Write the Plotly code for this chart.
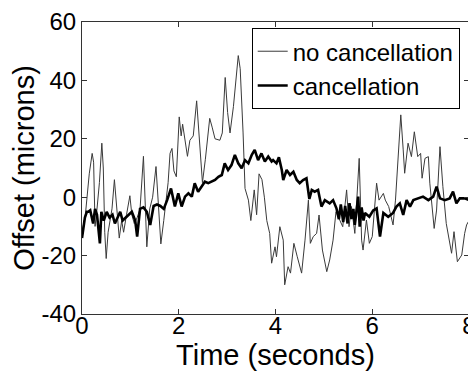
import plotly.graph_objects as go

# "no cancellation" (thin line) – time (s) and offset (microns)
t_nocancel = [0.00, 0.07, 0.15, 0.21, 0.24, 0.27, 0.31, 0.36, 0.41, 0.44, 0.47, 0.50, 0.54, 0.58,
              0.62, 0.67, 0.71, 0.77, 0.82, 0.86, 0.92, 0.99, 1.03, 1.08, 1.14, 1.20, 1.27, 1.30,
              1.34, 1.40, 1.46, 1.53, 1.57, 1.63, 1.69, 1.78, 1.82, 1.86, 1.90, 1.95, 2.01, 2.05,
              2.08, 2.12, 2.18, 2.23, 2.30, 2.37, 2.41, 2.49, 2.55, 2.64, 2.69, 2.75, 2.85, 2.90,
              2.96, 3.01, 3.06, 3.13, 3.23, 3.27, 3.33, 3.37, 3.44, 3.49, 3.56, 3.61, 3.66, 3.72,
              3.77, 3.82, 3.88, 3.92, 3.99, 4.02, 4.09, 4.16, 4.19, 4.26, 4.31, 4.38, 4.45, 4.54,
              4.61, 4.68, 4.72, 4.78, 4.85, 4.90, 4.97, 5.06, 5.12, 5.19, 5.25, 5.33, 5.39, 5.47,
              5.52, 5.57, 5.64, 5.73, 5.78, 5.81, 5.88, 5.94, 6.00, 6.09, 6.14, 6.23, 6.27, 6.34,
              6.43, 6.48, 6.59, 6.64, 6.67, 6.74, 6.81, 6.87, 6.94, 7.00, 7.03, 7.09, 7.16, 7.19,
              7.28, 7.33, 7.40, 7.46, 7.53, 7.64, 7.69, 7.76, 7.85, 7.91, 7.95, 8.00]
v_nocancel = [-12, -6, 8, 15, 12, -10, -4, 5, 18.5, 10, -12, -21, -12, -8,
              -4, 6, -3, -14, -8, -12, -6, 0.5, -6, -9, -7, -4, 14, 0,
              -17, -4, 0, 10.5, 0, -16, -8, 5, 15, 16.7, 9, 7, 27.5, 21,
              25, 20, 14, 19.5, 21, 33, 23, 5, 13, 27, 24, 20, 19.5, 22,
              41, 29, 22, 31, 48.5, 44, 22, 3, -1, -8, 2.5, -6, 8, 6,
              0, -8, -12.4, -22.6, -17, -20.4, -10.1, -14.7, -30, -23.8, -26, -15.8, -20.4, -26,
              -14.7, -1, -15.8, -13.5, -12.4, -6.1, -18.1, -25.5, -21.5, -14.7, -5, -7.8, -10.1, 2.5,
              -10.1, -3.2, -12.4, 13.3, -14.7, -18.1, -7.8, -15.8, -13.5, 4.8, -1, 1.3, -1, -3.2,
              -9.5, -1, 28.2, 16.2, 8.2, 18.5, 13.9, 22.4, 13.9, 15, 6.5, 13.3, 13.9, 4.8,
              -10.7, -4.4, 17.3, 3.6, -9, -19.2, -11.8, -22.1, -19.8, -12.4, -9.5, -8]

# "cancellation" (thick line)
t_cancel = [0.00, 0.03, 0.06, 0.10, 0.13, 0.17, 0.23, 0.27, 0.31, 0.37, 0.40, 0.45, 0.51, 0.57,
            0.63, 0.68, 0.73, 0.79, 0.84, 0.90, 0.96, 1.03, 1.10, 1.14, 1.20, 1.27, 1.34, 1.41,
            1.48, 1.55, 1.62, 1.69, 1.76, 1.84, 1.92, 1.99, 2.06, 2.13, 2.20, 2.27, 2.33, 2.40,
            2.47, 2.54, 2.61, 2.68, 2.75, 2.82, 2.89, 2.95, 3.02, 3.09, 3.16, 3.23, 3.30, 3.37,
            3.44, 3.51, 3.57, 3.64, 3.71, 3.78, 3.85, 3.92, 3.95, 4.02, 4.07, 4.13, 4.16, 4.23,
            4.30, 4.37, 4.44, 4.50, 4.57, 4.64, 4.70, 4.75, 4.81, 4.88, 4.95, 5.02, 5.12, 5.19,
            5.26, 5.31, 5.35, 5.40, 5.44, 5.49, 5.53, 5.57, 5.61, 5.64, 5.68, 5.71, 5.74, 5.78,
            5.82, 5.85, 5.94, 6.02, 6.09, 6.16, 6.23, 6.33, 6.43, 6.50, 6.57, 6.64, 6.71, 6.78,
            6.85, 6.95, 7.05, 7.16, 7.26, 7.33, 7.40, 7.50, 7.60, 7.67, 7.74, 7.81, 7.91, 8.00]
v_cancel = [-14, -10, -7, -5, -5, -4.5, -9, -4, -6, -15.8, -5, -8, -5, -7,
            -6, -9, -7, -5, -8, -7, -6, -5, -8, -13.5, -4, -3.5, -5, -9.5,
            -3, -2.5, -3, -4, -1, 3, -3.2, 1.3, -3.2, 0.2, 1.3, 0.2, 4.8, 1.9,
            3.6, 5.3, 4.8, 5.3, 5.9, 7, 7.6, 11.6, 9.3, 11, 14.5, 11.6, 9.9, 12.7,
            11.6, 14.5, 16.2, 12.7, 15, 12.2, 13.9, 12.2, 12.7, 11.6, 13.7, 9.3, 5.9, 9.3,
            7.6, 8.7, 5.9, 4.8, 5.9, 6.5, -0.6, 2.5, 1.9, 2.5, -3.2, -1, -2.1, -1,
            -3.8, -7.5, -2.5, -8.5, -3, -9, -2, -7.5, -4, -9.5, -2.5, 0.2, -10.1, -3.5,
            -8, -5.4, -6.7, -4.5, -3.8, -13.5, -5.4, -6.7, -5.4, -3.2, -2.1, -6.1, -1, -3.2,
            -1, -0.4, 0.2, -1, 0.2, 3.6, -0.4, -1, -0.4, 1.9, -2.1, -0.4, -0.4, -1]

x_ticks = [0, 2, 4, 6, 8]
y_ticks = [-40, -20, 0, 20, 40, 60]

FONT = "Liberation Sans, Arial, sans-serif"
FS = 24

fig = go.Figure()
fig.add_trace(go.Scatter(x=t_nocancel, y=v_nocancel, mode="lines", name="no cancellation",
                         line=dict(color="#3a3a3a", width=1)))
fig.add_trace(go.Scatter(x=t_cancel, y=v_cancel, mode="lines", name="cancellation",
                         line=dict(color="black", width=2.6)))

axis_common = dict(showline=True, linecolor="#333", linewidth=1, mirror="ticks",
                   ticks="inside", ticklen=5, tickcolor="#333", showgrid=False, zeroline=False,
                   automargin=False,
                   tickfont=dict(family=FONT, size=FS, color="black"))

# page body has an 8px default margin, so the figure is 8px smaller and offset
fig.update_layout(
    width=468, height=363,
    margin=dict(l=74, r=7, t=14, b=57),
    paper_bgcolor="white", plot_bgcolor="white",
    font=dict(family=FONT, size=FS, color="black"),
    xaxis=dict(range=[0, 8], tickvals=x_ticks, ticktext=[str(v) for v in x_ticks],
               ticklabelstandoff=-10,
               title=dict(text="Time (seconds)", standoff=6), **axis_common),
    yaxis=dict(range=[-40, 60], tickvals=y_ticks, ticktext=[str(v) for v in y_ticks],
               title=dict(text="Offset (microns)", standoff=10), **axis_common),
    legend=dict(x=0.976, y=0.979, xanchor="right", yanchor="top",
                bgcolor="white", bordercolor="black", borderwidth=1,
                font=dict(family=FONT, size=FS, color="black"),
                itemwidth=30, tracegroupgap=0),
    showlegend=True,
)

fig.write_html("out.html")
